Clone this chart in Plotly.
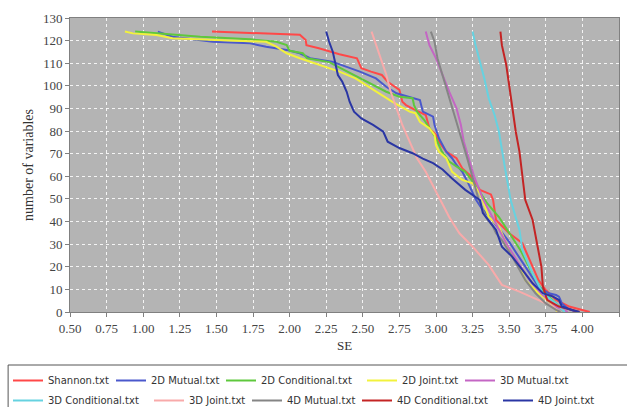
import plotly.graph_objects as go

# ---- data ----
names = ["Shannon.txt", "2D Mutual.txt", "2D Conditional.txt", "2D Joint.txt", "3D Mutual.txt",
         "3D Conditional.txt", "3D Joint.txt", "4D Mutual.txt", "4D Conditional.txt", "4D Joint.txt"]

shannon_x = [1.47, 2.0, 2.07, 2.11, 2.115, 2.2, 2.34, 2.46, 2.49, 2.556, 2.63, 2.67, 2.75, 2.77, 2.795,
             2.86, 2.93, 2.955, 3.0, 3.02, 3.07, 3.14, 3.18, 3.23, 3.30, 3.375, 3.39, 3.41, 3.5, 3.59,
             3.64, 3.70, 3.75, 3.82, 3.91, 4.05]
shannon_y = [124, 123, 122.6, 120.3, 118, 116.6, 114, 112.2, 107.8, 106.3, 104.8, 101.8, 98.2, 93, 91.5,
             89.3, 87.1, 81.2, 78.3, 75.3, 70.9, 68, 63.5, 60.6, 54, 52, 49.5, 40.7, 34.8, 30.4,
             23, 14.1, 9.7, 5.3, 2.4, 0]

mutual2_x = [1.10, 1.2, 1.475, 1.73, 1.84, 1.98, 2.07, 2.14, 2.29, 2.36, 2.48, 2.59, 2.66, 2.73, 2.86,
             2.89, 2.91, 2.98, 2.99, 3.02, 3.07, 3.11, 3.14, 3.18, 3.22, 3.27, 3.31, 3.38, 3.44, 3.5,
             3.55, 3.62, 3.70, 3.77, 3.82, 3.84, 3.86, 3.9, 3.96]
mutual2_y = [124, 121.7, 119.5, 118.8, 117.3, 115.9, 114.4, 112.2, 110.7, 109.2, 106.3, 103.3, 99.6, 96.7, 94.5,
             93.7, 88.6, 86.4, 82.7, 76.8, 70.9, 68, 65, 62, 57, 50, 46, 41, 36, 31,
             26, 19, 11.2, 8.3, 7.5, 6.8, 3.8, 1.5, 0]

cond2_x = [0.945, 1.09, 1.39, 1.73, 1.91, 1.98, 2.0, 2.09, 2.12, 2.27, 2.48, 2.66, 2.75, 2.84, 2.85,
           2.87, 2.92, 2.97, 3.0, 3.04, 3.09, 3.16, 3.2, 3.28, 3.35, 3.43, 3.5, 3.58, 3.65, 3.72,
           3.8, 3.86, 3.88]
cond2_y = [124, 123.2, 121.7, 120.6, 119.5, 118, 115.5, 114.4, 112.2, 110.5, 103.3, 97.4, 95.2, 94.5, 91.5,
           88.6, 84.9, 79.7, 76.8, 70.9, 66.5, 63.5, 62, 55, 48, 42, 35, 27, 18, 10,
           5, 1, 0]

joint2_x = [0.875, 0.93, 1.09, 1.2, 1.5, 1.84, 1.91, 1.98, 2.07, 2.14, 2.2, 2.34, 2.45, 2.59, 2.7,
            2.82, 2.86, 2.89, 2.955, 2.99, 3.0, 3.02, 3.07, 3.11, 3.18, 3.25, 3.3, 3.36, 3.43, 3.5,
            3.57, 3.61, 3.7, 3.79, 3.83]
joint2_y = [124, 123.2, 122.5, 121, 120.3, 119.5, 117.3, 114.4, 112.2, 110.7, 109.5, 106.3, 103.3, 97.4, 93,
            88.6, 87.9, 84.1, 81.2, 78.3, 73.8, 70.9, 68, 62, 58.4, 56.9, 52.5, 42.1, 37.7, 27.4,
            20, 14.1, 8.3, 3.8, 0]

mutual3_x = [2.93, 2.955, 3.0, 3.045, 3.09, 3.14, 3.17, 3.19, 3.23, 3.26, 3.32, 3.4, 3.48, 3.56, 3.64,
             3.72, 3.82, 3.9]
mutual3_y = [124, 118, 112.2, 104.8, 97.4, 90.1, 82.7, 75.3, 66.5, 60, 50, 40, 30.4, 22, 14.1,
             8, 2.4, 0]

cond3_x = [3.25, 3.27, 3.3, 3.33, 3.36, 3.4, 3.43, 3.45, 3.47, 3.51, 3.57, 3.59, 3.66, 3.73, 3.82, 3.88]
cond3_y = [124, 118, 110.7, 103.3, 94.5, 87.1, 79.7, 70.9, 64.2, 49.5, 36.3, 27.4, 17, 8.3, 3.8, 0]

joint3_x = [2.56, 2.59, 2.625, 2.66, 2.69, 2.73, 2.77, 2.82, 2.87, 2.93, 2.97, 3.03, 3.09, 3.16, 3.25,
            3.36, 3.45, 3.57, 3.68, 3.8, 3.84]
joint3_y = [124, 118, 112, 105, 97.5, 90, 82.7, 75.3, 68, 62, 57, 49, 42, 34.8, 28.9,
            20.8, 12, 9, 6, 2.4, 0]

mutual4_x = [2.965, 2.99, 3.01, 3.045, 3.08, 3.11, 3.15, 3.18, 3.22, 3.24, 3.29, 3.34, 3.39, 3.41, 3.45,
             3.52, 3.57, 3.61, 3.68, 3.75, 3.82, 3.85]
mutual4_y = [124, 119.5, 112.2, 104.8, 97.4, 90.1, 82.7, 75.3, 66.5, 62, 50, 42, 37.7, 34.8, 31.8,
             24.5, 18.6, 14.1, 8.3, 3.8, 0.9, 0]

cond4_x = [3.44, 3.45, 3.48, 3.5, 3.52, 3.545, 3.57, 3.58, 3.61, 3.66, 3.69, 3.72, 3.73, 3.76, 3.84, 3.93, 3.98]
cond4_y = [124, 118, 109.2, 100.4, 90.1, 79.7, 70.9, 65, 49.5, 40.7, 30.4, 20, 11.2, 5.3, 2.4, 0.9, 0]

joint4_x = [2.25, 2.27, 2.295, 2.31, 2.33, 2.36, 2.39, 2.41, 2.44, 2.49, 2.57, 2.64, 2.67, 2.75, 2.84,
            2.91, 2.98, 3.045, 3.11, 3.2, 3.3, 3.32, 3.36, 3.41, 3.45, 3.52, 3.59, 3.66, 3.73, 3.80,
            3.84, 3.86, 3.93, 3.98]
joint4_y = [124, 119.5, 115.1, 110.7, 104.8, 101.8, 97.4, 93, 88.6, 85.6, 82.7, 79.7, 75.3, 72.5, 70.2,
            67.8, 65.8, 63, 59, 54, 49.5, 43.8, 40.7, 36.3, 28.9, 24.5, 18.6, 12.7, 8.3, 6.8,
            5.3, 2.4, 0.9, 0]

series_x = [shannon_x, mutual2_x, cond2_x, joint2_x, mutual3_x, cond3_x, joint3_x, mutual4_x, cond4_x, joint4_x]
series_y = [shannon_y, mutual2_y, cond2_y, joint2_y, mutual3_y, cond3_y, joint3_y, mutual4_y, cond4_y, joint4_y]

colors = ["#ff4848", "#4a58cc", "#5ec83c", "#f2f23c", "#c466c4",
          "#66d2e0", "#f8aaaa", "#858585", "#c42424", "#2a36a4"]

x_ticks = [0.5 + 0.25 * i for i in range(16)]
y_ticks = list(range(0, 131, 10))

# legend entry placement (pixels in the 627x407 figure): two rows, five entries each
legend_px = [8, 111, 221, 362, 460, 8, 149, 247, 357, 498]
legend_row_top = [366, 366, 366, 366, 366, 386, 386, 386, 386, 386]
W, H = 627, 407

fig = go.Figure()
legends = {}
for i, (nm, xs, ys, c) in enumerate(zip(names, series_x, series_y, colors)):
    key = "legend" if i == 0 else f"legend{i + 1}"
    fig.add_trace(go.Scatter(
        x=xs, y=ys, mode="lines", name=nm,
        line=dict(color=c, width=2),
        legend=key, showlegend=True,
    ))
    legends[key] = dict(
        x=legend_px[i] / W, y=1 - legend_row_top[i] / H,
        xref="container", yref="container", xanchor="left", yanchor="top",
        orientation="h", font=dict(family="DejaVu Sans", size=10, color="#333333"),
        bgcolor="rgba(0,0,0,0)", borderwidth=0, itemwidth=30,
    )

fig.update_layout(
    width=W, height=H,
    showlegend=True,
    margin=dict(l=70, r=7, t=18, b=95),
    paper_bgcolor="white",
    plot_bgcolor="#b4b4b4",
    font=dict(family="Liberation Serif", size=13, color="#333333"),
    xaxis=dict(
        range=[0.5, 4.25], tickvals=x_ticks, ticktext=[f"{v:.2f}" for v in x_ticks],
        showgrid=True, gridcolor="rgba(255,255,255,0.85)", griddash="dot", gridwidth=1,
        zeroline=False, showline=True, linecolor="#808080", linewidth=1, mirror=True,
        ticks="outside", ticklen=4, tickcolor="#808080",
        title=dict(text="SE", font=dict(family="Liberation Serif", size=13, color="#333333"), standoff=6),
        tickfont=dict(family="Liberation Serif", size=13, color="#444444"),
    ),
    yaxis=dict(
        range=[0, 130], tickvals=y_ticks,
        showgrid=True, gridcolor="rgba(255,255,255,0.85)", griddash="dot", gridwidth=1,
        zeroline=False, showline=True, linecolor="#808080", linewidth=1, mirror=True,
        ticks="outside", ticklen=4, tickcolor="#808080",
        title=dict(text="number of variables", font=dict(family="Liberation Serif", size=14, color="#333333"), standoff=6),
        tickfont=dict(family="Liberation Serif", size=13, color="#444444"),
    ),
    shapes=[dict(
        type="rect", xref="paper", yref="paper",
        x0=(8 - 70) / 550, x1=(640 - 70) / 550,
        y0=(312 - 365) / 294, y1=(312 - 412) / 294,
        line=dict(color="#555555", width=1), fillcolor="rgba(0,0,0,0)",
    )],
    **legends,
)

fig.write_html(
    "out.html",
    config={"responsive": False, "displayModeBar": False},
    post_script="document.body.style.margin='0';document.body.style.padding='0';"
                "var gd=document.getElementById('{plot_id}');"
                "Plotly.relayout(gd,{width:627,height:407});",
)
